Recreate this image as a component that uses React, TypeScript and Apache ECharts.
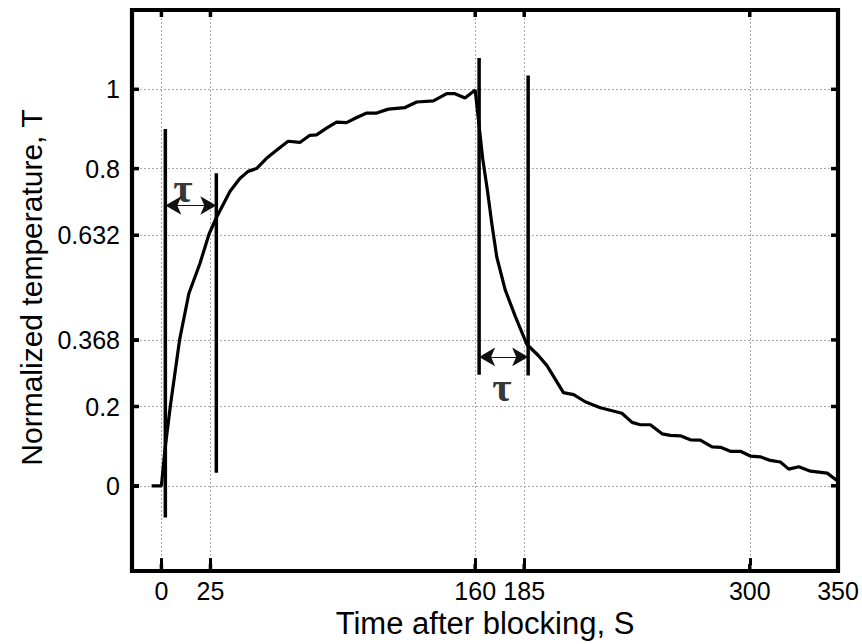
import React, { useEffect, useRef } from "react";
import * as echarts from "echarts";

// Measured curve: normalized temperature vs time after blocking (s)
const timeS = [-5, 0, 1.7, 4.6, 9.3, 14, 19.6, 24.3, 28, 35, 40, 44.2, 48.5, 53.6, 58.7, 64.6, 70.6, 75.7, 79.1, 84.2, 89.3, 94.4, 99.6, 104.7, 109.8, 115.7, 124.2, 130.2, 138.7, 145.5, 149.7, 154.8, 160, 163.8, 166.3, 168.5, 171, 175.3, 180.4, 186.3, 192.3, 196.6, 205, 210.2, 216.1, 223.8, 234.8, 240, 244.2, 249.3, 255.3, 259.5, 264.6, 269.7, 274.8, 280.8, 285.1, 290.1, 295.2, 300.3, 305.4, 310.5, 315.6, 319.9, 325, 331, 339.5, 344.3];
const tempT = [0, 0, 0.087, 0.203, 0.369, 0.485, 0.56, 0.635, 0.676, 0.743, 0.775, 0.793, 0.8, 0.826, 0.846, 0.869, 0.866, 0.884, 0.885, 0.902, 0.917, 0.916, 0.929, 0.94, 0.94, 0.95, 0.954, 0.968, 0.971, 0.989, 0.989, 0.978, 0.998, 0.826, 0.743, 0.66, 0.577, 0.494, 0.428, 0.357, 0.328, 0.303, 0.235, 0.23, 0.212, 0.197, 0.183, 0.16, 0.154, 0.154, 0.131, 0.127, 0.126, 0.116, 0.115, 0.098, 0.097, 0.087, 0.087, 0.075, 0.073, 0.064, 0.06, 0.042, 0.048, 0.037, 0.032, 0.014];

// Vertical marker bars
const markerT = [2, 28, 162, 187];
const markerLow = [-0.08, 0.033, 0.28, 0.278];
const markerHigh = [0.9, 0.788, 1.079, 1.035];

// Double arrows for tau
const arrowStart = [2, 162];
const arrowEnd = [28, 187];
const arrowLevel = [0.707, 0.325];

// Tau labels
const tauT = [11, 173.6];
const tauY = [0.752, 0.249];
const tauText = ["τ", "τ"];

// Axes
const xMin = -15;
const xMax = 345;
const xTickValues = [0, 25, 160, 185, 300, 345];
const xTickLabels = ["0", "25", "160", "185", "300", "350"];
const yMin = -0.2;
const yMax = 1.2;
const yTickValues = [0, 0.2, 0.368, 0.632, 0.8, 1];
const yTickLabels = ["0", "0.2", "0.368", "0.632", "0.8", "1"];

const FONT = "'Liberation Sans', Arial, Helvetica, sans-serif";
const GRID = { left: 132, right: 24, top: 10, bottom: 73 };
const W = 862;
const H = 644;

const mkGrid = () => ({ show: true, lineStyle: { color: "#a8a8a8", width: 1, type: [2, 2] } });
const mkTick = (vals: number[]) => ({
  show: true,
  inside: true,
  length: 7,
  customValues: vals,
  lineStyle: { color: "#000", width: 3 },
});

export default function App() {
  const ref = useRef<HTMLDivElement>(null);

  useEffect(() => {
    if (!ref.current) return;
    const chart = echarts.init(ref.current, null, { renderer: "svg" });

    const markerSeries = markerT.map((t, i) => ({
      type: "line",
      data: [
        [t, markerLow[i]],
        [t, markerHigh[i]],
      ],
      symbol: "none",
      silent: true,
      lineStyle: { color: "#000", width: 3.5 },
      z: 3,
    }));

    const option: any = {
      animation: false,
      backgroundColor: "#fff",
      grid: { ...GRID },
      xAxis: [
        {
          type: "value",
          min: xMin,
          max: xMax,
          position: "bottom",
          axisLine: { show: false, onZero: false },
          axisTick: mkTick(xTickValues),
          axisLabel: {
            customValues: xTickValues,
            formatter: (v: number) => {
              const idx = xTickValues.indexOf(v);
              return idx >= 0 ? xTickLabels[idx] : "";
            },
            color: "#000",
            fontSize: 25,
            fontFamily: FONT,
            margin: 13,
            showMinLabel: true,
            showMaxLabel: true,
            hideOverlap: false,
          },
          splitLine: mkGrid(),
          name: "Time after blocking, S",
          nameLocation: "middle",
          nameGap: 41,
          nameTextStyle: { color: "#000", fontSize: 31, fontFamily: FONT },
        },
      ],
      yAxis: [
        {
          type: "value",
          min: yMin,
          max: yMax,
          position: "left",
          axisLine: { show: false, onZero: false },
          axisTick: mkTick(yTickValues),
          axisLabel: {
            customValues: yTickValues,
            formatter: (v: number) => {
              const idx = yTickValues.indexOf(v);
              return idx >= 0 ? yTickLabels[idx] : "";
            },
            color: "#000",
            fontSize: 25,
            fontFamily: FONT,
            margin: 12,
            hideOverlap: false,
          },
          splitLine: mkGrid(),
          name: "Normalized temperature, T",
          nameLocation: "middle",
          nameGap: 86,
          nameTextStyle: { color: "#000", fontSize: 30, fontFamily: FONT },
        },
      ],
      series: [
        {
          type: "line",
          data: timeS.map((t, i) => [t, tempT[i]]),
          symbol: "none",
          silent: true,
          lineStyle: { color: "#000", width: 3.2 },
          z: 4,
          markLine: {
            silent: true,
            symbol: ["arrow", "arrow"],
            symbolSize: [14, 16],
            label: { show: false },
            lineStyle: { color: "#111", width: 1.2, type: "solid" },
            itemStyle: { color: "#000" },
            emphasis: { disabled: true },
            data: arrowStart.map((s, i) => [
              { coord: [s, arrowLevel[i]] },
              { coord: [arrowEnd[i], arrowLevel[i]] },
            ]),
          },
        },
        ...markerSeries,
        {
          type: "scatter",
          data: tauT.map((t, i) => [t, tauY[i]]),
          symbolSize: 0,
          silent: true,
          label: {
            show: true,
            position: "inside",
            formatter: (p: any) => tauText[p.dataIndex],
            color: "#000",
            fontSize: 42,
            fontWeight: "bold",
            fontFamily: "'Liberation Serif', 'DejaVu Serif', serif",
          },
          z: 5,
        },
      ],
    };

    chart.setOption(option);

    // Frame (box) and inward tick marks on all four sides, positioned via the axes' own scales
    const x0 = GRID.left;
    const x1 = W - GRID.right;
    const y0 = GRID.top;
    const y1 = H - GRID.bottom;
    const tickLen = 7;
    const tickW = 3.5;
    const toPx = (finder: any, v: number, fallback: number) => {
      const r = chart.convertToPixel(finder, v) as any;
      const n = Array.isArray(r) ? r[0] : r;
      return typeof n === "number" && isFinite(n) ? n : fallback;
    };
    const els: any[] = [
      {
        type: "rect",
        id: "frame",
        shape: { x: x0, y: y0, width: x1 - x0, height: y1 - y0 },
        style: { fill: "none", stroke: "#000", lineWidth: 4.2 },
        silent: true,
        z: 10,
      },
    ];
    const xPx = xTickValues.map((v) =>
      toPx({ xAxisIndex: 0 }, v, x0 + ((v - xMin) / (xMax - xMin)) * (x1 - x0))
    );
    const yPx = yTickValues.map((v) =>
      toPx({ yAxisIndex: 0 }, v, y1 - ((v - yMin) / (yMax - yMin)) * (y1 - y0))
    );
    xPx.forEach((px, i) => {
      els.push({
        type: "rect",
        id: "tb" + i,
        shape: { x: px - tickW / 2, y: y1 - tickLen, width: tickW, height: tickLen },
        style: { fill: "#000" },
        silent: true,
        z: 11,
      });
    });
    xPx.forEach((px, i) => {
      els.push({
        type: "rect",
        id: "tt" + i,
        shape: { x: px - tickW / 2, y: y0, width: tickW, height: tickLen },
        style: { fill: "#000" },
        silent: true,
        z: 11,
      });
    });
    yPx.forEach((py, i) => {
      els.push({
        type: "rect",
        id: "tl" + i,
        shape: { x: x0, y: py - tickW / 2, width: tickLen, height: tickW },
        style: { fill: "#000" },
        silent: true,
        z: 11,
      });
    });
    yPx.forEach((py, i) => {
      els.push({
        type: "rect",
        id: "tr" + i,
        shape: { x: x1 - tickLen, y: py - tickW / 2, width: tickLen, height: tickW },
        style: { fill: "#000" },
        silent: true,
        z: 11,
      });
    });
    chart.setOption({ graphic: { elements: els } });

    return () => chart.dispose();
  }, []);

  return (
    <div
      ref={ref}
      style={{ position: "absolute", left: 0, top: 0, width: W, height: H, background: "#fff" }}
    />
  );
}
